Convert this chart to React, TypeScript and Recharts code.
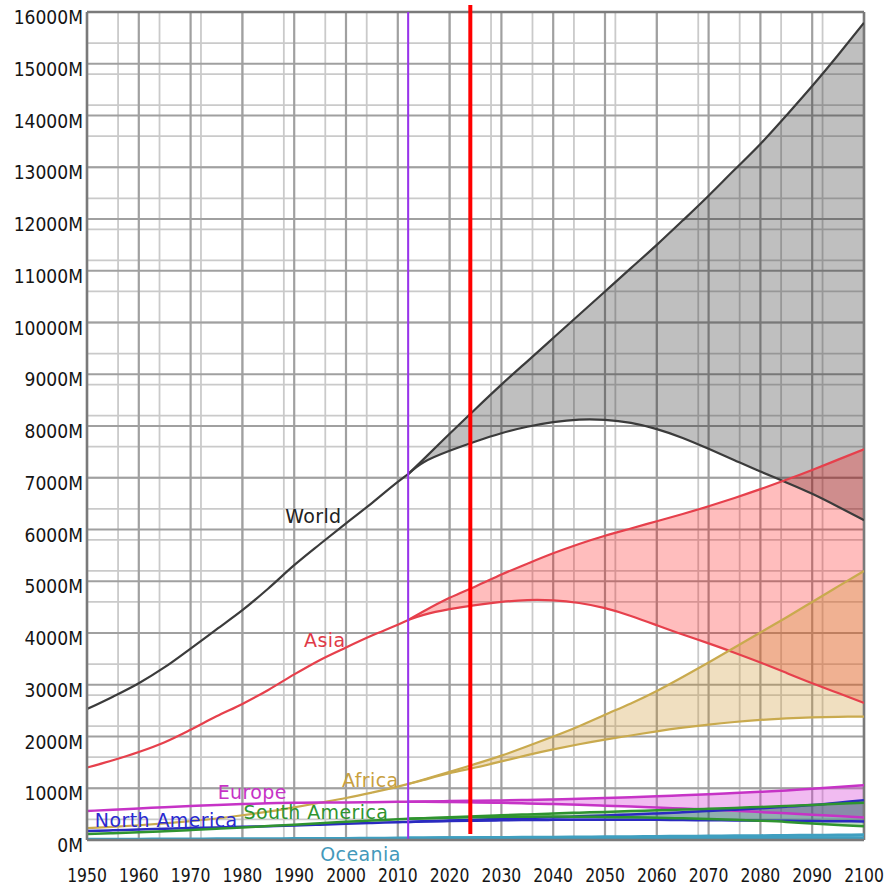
import React from "react";
import {
  ComposedChart,
  Area,
  Line,
  XAxis,
  YAxis,
  CartesianGrid,
  ReferenceLine,
  ReferenceDot,
} from "recharts";

// years with known (historical) figures, then the projection years
const histYears = [1950, 1955, 1960, 1965, 1970, 1975, 1980, 1985, 1990, 1995, 2000, 2005, 2010, 2012];
const projYears = [
  2012, 2015, 2020, 2025, 2030, 2035, 2040, 2045, 2050, 2055, 2060, 2065, 2070, 2075, 2080, 2085, 2090,
  2095, 2100,
];

// all values in millions
const worldHist = [2530, 2770, 3030, 3340, 3700, 4070, 4440, 4860, 5310, 5720, 6120, 6510, 6920, 7070];
const worldHigh = [
  7070, 7360, 7850, 8330, 8800, 9250, 9700, 10150, 10600, 11050, 11500, 11970, 12450, 12950, 13450, 14000,
  14570, 15170, 15790,
];
const worldLow = [
  7070, 7300, 7520, 7700, 7860, 7985, 8075, 8125, 8120, 8060, 7940, 7770, 7560, 7340, 7120, 6910, 6690,
  6440, 6180,
];

const asiaHist = [1400, 1540, 1700, 1890, 2130, 2390, 2630, 2900, 3200, 3480, 3720, 3950, 4160, 4250];
const asiaHigh = [
  4250, 4420, 4680, 4900, 5130, 5340, 5540, 5720, 5880, 6020, 6160, 6300, 6450, 6610, 6780, 6960, 7150,
  7350, 7550,
];
const asiaLow = [
  4250, 4350, 4460, 4540, 4600, 4635, 4630, 4580, 4480, 4330, 4150, 3970, 3800, 3620, 3430, 3230, 3030,
  2840, 2650,
];

const africaHist = [229, 254, 285, 322, 366, 416, 478, 550, 632, 720, 811, 916, 1031, 1083];
const africaHigh = [
  1083, 1170, 1320, 1470, 1630, 1810, 2000, 2200, 2420, 2640, 2880, 3150, 3430, 3720, 4010, 4300, 4600,
  4900, 5200,
];
const africaLow = [
  1083, 1160, 1290, 1400, 1520, 1640, 1750, 1850, 1940, 2020, 2100, 2170, 2230, 2280, 2320, 2350, 2370,
  2380, 2385,
];

const europeHist = [560, 585, 608, 635, 657, 677, 694, 708, 721, 727, 726, 729, 738, 740];
const europeHigh = [
  740, 745, 752, 758, 765, 775, 785, 797, 810, 827, 845, 865, 885, 907, 930, 958, 990, 1023, 1060,
];
const europeLow = [
  740, 738, 733, 727, 718, 707, 694, 680, 664, 646, 627, 607, 586, 563, 540, 515, 490, 462, 435,
];

const northAmericaHist = [172, 187, 204, 219, 231, 242, 254, 267, 281, 296, 313, 328, 344, 350];
const northAmericaHigh = [
  350, 360, 376, 392, 408, 424, 440, 457, 475, 494, 514, 536, 560, 586, 614, 644, 677, 722, 770,
];
const northAmericaLow = [
  350, 356, 365, 373, 380, 385, 389, 391, 392, 391, 389, 386, 382, 378, 374, 370, 366, 362, 358,
];

const southAmericaHist = [114, 130, 148, 169, 192, 217, 242, 270, 297, 324, 352, 378, 400, 410];
const southAmericaHigh = [
  410, 420, 440, 460, 478, 495, 512, 528, 543, 558, 573, 588, 603, 620, 638, 657, 678, 700, 722,
];
const southAmericaLow = [
  410, 418, 430, 440, 447, 451, 452, 450, 446, 439, 430, 419, 406, 391, 372, 350, 318, 290, 265,
];

const oceaniaHist = [13, 14, 16, 18, 20, 22, 23, 25, 27, 29, 31, 34, 37, 38];
const oceaniaHigh = [38, 40, 43, 46, 49, 52, 55, 58, 62, 65, 69, 72, 76, 80, 84, 88, 92, 96, 100];
const oceaniaLow = [38, 39, 42, 44, 46, 48, 49, 50, 50, 50, 49, 48, 47, 46, 45, 44, 43, 42, 41];

const xTicks = [1950, 1960, 1970, 1980, 1990, 2000, 2010, 2020, 2030, 2040, 2050, 2060, 2070, 2080, 2090, 2100];
const yTicks = [0, 1000, 2000, 3000, 4000, 5000, 6000, 7000, 8000, 9000, 10000, 11000, 12000, 13000, 14000, 15000, 16000];
const xMinor = Array.from({ length: 76 }, (_, i) => 1950 + i * 2);
const yMinor = Array.from({ length: 81 }, (_, i) => i * 200);

const revisionYear = 2012;
const currentYear = 2024;

const regions = [
  { key: "world", hist: worldHist, high: worldHigh, low: worldLow, stroke: "#3b3b3b", fill: "rgba(0,0,0,0.25)", width: 2.2 },
  { key: "asia", hist: asiaHist, high: asiaHigh, low: asiaLow, stroke: "#e6404c", fill: "rgba(255,0,0,0.26)", width: 2.2 },
  { key: "africa", hist: africaHist, high: africaHigh, low: africaLow, stroke: "#c9aa4e", fill: "rgba(205,150,45,0.3)", width: 2.2 },
  { key: "europe", hist: europeHist, high: europeHigh, low: europeLow, stroke: "#c633c6", fill: "rgba(215,60,215,0.35)", width: 2.5 },
  { key: "northAmerica", hist: northAmericaHist, high: northAmericaHigh, low: northAmericaLow, stroke: "#2a2ac0", fill: "rgba(40,40,190,0.3)", width: 2.5 },
  { key: "southAmerica", hist: southAmericaHist, high: southAmericaHigh, low: southAmericaLow, stroke: "#2f942f", fill: "rgba(40,140,40,0.3)", width: 2.5 },
  { key: "oceania", hist: oceaniaHist, high: oceaniaHigh, low: oceaniaLow, stroke: "#3f9fc0", fill: "rgba(60,160,190,0.5)", width: 3 },
];

const labels = [
  { text: "World", year: 1993.7, value: 6260, color: "#222222" },
  { text: "Asia", year: 1995.9, value: 3865, color: "#e03a48" },
  { text: "Africa", year: 2004.7, value: 1160, color: "#c8a040" },
  { text: "Europe", year: 1981.9, value: 930, color: "#c633c6" },
  { text: "South America", year: 1994.2, value: 541, color: "#2f942f" },
  { text: "North America", year: 1965.3, value: 386, color: "#2a2ad0" },
  { text: "Oceania", year: 2002.8, value: -271, color: "#4499bb" },
];

const allYears = Array.from(new Set([...histYears, ...projYears])).sort((a, b) => a - b);

const chartData = allYears.map((year) => {
  const row: Record<string, any> = { year };
  const hi = histYears.indexOf(year);
  const pi = projYears.indexOf(year);
  regions.forEach((r) => {
    if (hi >= 0) row[r.key + "Hist"] = r.hist[hi];
    if (pi >= 0) {
      row[r.key + "High"] = r.high[pi];
      row[r.key + "Low"] = r.low[pi];
      row[r.key + "Band"] = [r.low[pi], r.high[pi]];
    } else {
      row[r.key + "Band"] = [r.hist[hi], r.hist[hi]];
    }
  });
  return row;
});

// tick text is drawn a little narrow, like the original picture
const YTick = ({ y, payload }: any) => (
  <text
    transform={`translate(83,${y + 12}) scale(0.88,1)`}
    textAnchor="end"
    fontSize={19.5}
    fill="#151515"
    fontFamily="DejaVu Sans"
  >
    {payload.value}M
  </text>
);

const XTick = ({ x, payload }: any) => (
  <text
    transform={`translate(${x},882) scale(0.8,1)`}
    textAnchor="middle"
    fontSize={19.5}
    fill="#151515"
    fontFamily="DejaVu Sans"
  >
    {payload.value}
  </text>
);

export default function App() {
  return (
    <div style={{ position: "absolute", left: 0, top: 0, background: "#fff" }}>
      <ComposedChart
        width={884}
        height={887}
        data={chartData}
        margin={{ top: 12, right: 20, left: 7, bottom: 7 }}
      >
        <CartesianGrid
          stroke="#cacaca"
          strokeWidth={1.8}
          verticalValues={xMinor}
          horizontalValues={yMinor}
        />
        <CartesianGrid
          stroke="#a0a0a0"
          strokeWidth={2.2}
          verticalValues={xTicks}
          horizontalValues={yTicks}
        />
        <XAxis
          dataKey="year"
          type="number"
          domain={[1950, 2100]}
          ticks={xTicks}
          tick={<XTick />}
          tickLine={false}
          axisLine={{ stroke: "#7a7a7a", strokeWidth: 2.5 }}
          height={40}
          allowDataOverflow
        />
        <YAxis
          type="number"
          domain={[0, 16000]}
          ticks={yTicks}
          tick={<YTick />}
          tickLine={false}
          axisLine={{ stroke: "#7a7a7a", strokeWidth: 2.5 }}
          width={80}
          allowDataOverflow
        />
        <ReferenceLine y={16000} stroke="#7a7a7a" strokeWidth={2.5} />
        <ReferenceLine x={2100} stroke="#7a7a7a" strokeWidth={2.5} />

        {regions.map((r) => (
          <Area
            key={r.key + "Band"}
            dataKey={r.key + "Band"}
            type="natural"
            stroke="none"
            fill={r.fill}
            fillOpacity={1}
            isAnimationActive={false}
            dot={false}
            activeDot={false}
          />
        ))}
        {regions.map((r) =>
          ["Hist", "High", "Low"].map((part) => (
            <Line
              key={r.key + part}
              dataKey={r.key + part}
              type={part === "Hist" ? "monotone" : "natural"}
              stroke={r.stroke}
              strokeWidth={r.width}
              dot={false}
              activeDot={false}
              isAnimationActive={false}
            />
          ))
        )}

        <ReferenceLine x={revisionYear} stroke="#9933ee" strokeWidth={2} />
        <ReferenceLine
          segment={[
            { x: currentYear, y: 16135 },
            { x: currentYear, y: 116 },
          ]}
          stroke="#ff0000"
          strokeWidth={4}
          ifOverflow="visible"
        />

        {labels.map((l) => (
          <ReferenceDot
            key={l.text}
            x={l.year}
            y={l.value}
            r={0}
            fill="none"
            stroke="none"
            ifOverflow="visible"
            label={{
              value: l.text,
              position: "center",
              fill: l.color,
              fontSize: 19,
              fontFamily: "DejaVu Sans",
              letterSpacing: 0.4,
            }}
          />
        ))}
      </ComposedChart>
    </div>
  );
}
